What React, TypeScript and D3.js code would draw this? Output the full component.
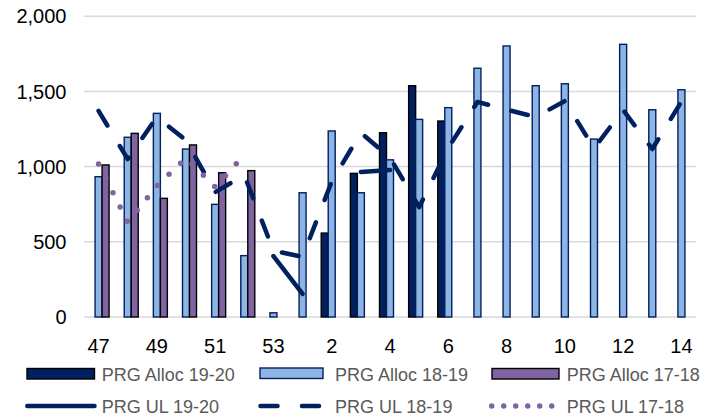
import React from 'react';
import * as d3 from 'd3';

const weeks = ['47','48','49','50','51','52','53','1','2','3','4','5','6','7','8','9','10','11','12','13','14'];
const xTickLabels = ['47','49','51','53','2','4','6','8','10','12','14'];
const yTicks = [0, 500, 1000, 1500, 2000];

const alloc1920: (number | null)[] = [null,null,null,null,null,null,null,null,558,955,1225,1538,1303,null,null,null,null,null,null,null,null];
const alloc1819: (number | null)[] = [933,1195,1354,1117,749,408,28,826,1237,826,1045,1314,1392,1654,1802,1538,1551,1183,1813,1378,1511];
const alloc1718: (number | null)[] = [1011,1221,789,1144,959,973,null,null,null,null,null,null,null,null,null,null,null,null,null,null,null];

const ul1920: (number | null)[] = [null,null,null,null,null,null,405,153,null,964,977,null,null,null,null,null,null,null,null,null,null];
const ul1819: (number | null)[] = [1370,1050,1330,1175,830,944,440,400,900,1225,1060,730,1124,1430,1379,1330,1436,1122,1376,1117,1432];
const ul1718: (number | null)[] = [1017,632,871,1057,864,1077,null,null,null,null,null,null,null,null,null,null,null,null,null,null,null];

const legendLabels = ['PRG Alloc 19-20','PRG Alloc 18-19','PRG Alloc 17-18','PRG UL 19-20','PRG UL 18-19','PRG UL 17-18'];

const NAVY = '#002060';
const LIGHT = '#8db4e2';
const PURPLE = '#8064a2';
const GRID = '#d9d9d9';
const FONT = '"Liberation Sans", Arial, sans-serif';

export default function App() {
  const W = 719, H = 419;
  const x = d3.scaleBand<string>().domain(weeks).range([84, 696]).paddingInner(0).paddingOuter(0);
  const y = d3.scaleLinear().domain([0, 2000]).range([317, 16.2]);
  const cx = (w: string) => (x(w) as number) + x.bandwidth() / 2;
  const bw = 7;
  const fmt = d3.format(',');

  const barSeries = [
    { data: alloc1920, fill: NAVY, stroke: '#000000', off: -bw },
    { data: alloc1819, fill: LIGHT, stroke: NAVY, off: 0 },
    { data: alloc1718, fill: PURPLE, stroke: '#000000', off: bw },
  ];

  const mkLine = (data: (number | null)[]) =>
    d3.line<number | null>()
      .defined((d) => d != null)
      .x((_, i) => cx(weeks[i]))
      .y((d) => y(d as number))(data) || '';

  const legendTextStyle = { fontFamily: FONT, fontSize: 18, fill: '#595959' } as const;

  return (
    <svg width={W} height={H} style={{ position: 'absolute', left: 0, top: 0, background: '#fff' }}>
      <rect x={0} y={0} width={W} height={H} fill="#fff" />
      {yTicks.map((t) => (
        <g key={t}>
          <line x1={84} x2={696} y1={y(t)} y2={y(t)} stroke={GRID} strokeWidth={1.5} />
          <text x={66.5} y={y(t) + 7.2} textAnchor="end" fontFamily={FONT} fontSize={20} fill="#000">{fmt(t)}</text>
        </g>
      ))}
      {barSeries.map((s, si) => (
        <g key={si}>
          {s.data.map((v, i) =>
            v == null ? null : (
              <rect
                key={i}
                x={cx(weeks[i]) + s.off - bw / 2}
                y={y(v)}
                width={bw}
                height={y(0) - y(v)}
                fill={s.fill}
                stroke={s.stroke}
                strokeWidth={1.4}
              />
            )
          )}
        </g>
      ))}
      <path d={mkLine(ul1920)} fill="none" stroke={NAVY} strokeWidth={4.5} strokeLinecap="round" strokeLinejoin="round" />
      <path d={mkLine(ul1819)} fill="none" stroke={NAVY} strokeWidth={4.5} strokeLinecap="round" strokeLinejoin="round" strokeDasharray="17 24" />
      <path d={mkLine(ul1718)} fill="none" stroke={PURPLE} strokeWidth={5.5} strokeLinecap="round" strokeLinejoin="round" strokeDasharray="0 16" />
      {xTickLabels.map((l) => (
        <text key={l} x={cx(l)} y={353} textAnchor="middle" fontFamily={FONT} fontSize={20} fill="#000">{l}</text>
      ))}
      {/* legend row 1 */}
      <rect x={27} y={368.5} width={67.5} height={10.5} fill={NAVY} stroke="#000" strokeWidth={1.4} />
      <text x={101.7} y={381} {...legendTextStyle}>{legendLabels[0]}</text>
      <rect x={260} y={368} width={63} height={10.5} fill={LIGHT} stroke={NAVY} strokeWidth={1.4} />
      <text x={335} y={381} {...legendTextStyle}>{legendLabels[1]}</text>
      <rect x={492} y={368.5} width={67} height={10.5} fill={PURPLE} stroke="#000" strokeWidth={1.4} />
      <text x={566.7} y={381} {...legendTextStyle}>{legendLabels[2]}</text>
      {/* legend row 2 */}
      <line x1={27.3} x2={94.5} y1={406} y2={406} stroke={NAVY} strokeWidth={4.5} strokeLinecap="round" />
      <text x={101.7} y={413} {...legendTextStyle}>{legendLabels[3]}</text>
      <line x1={260.5} x2={319.5} y1={406} y2={406} stroke={NAVY} strokeWidth={4.5} strokeLinecap="round" strokeDasharray="17 24.5" />
      <text x={335} y={413} {...legendTextStyle}>{legendLabels[4]}</text>
      <line x1={491.7} x2={552} y1={406} y2={406} stroke={PURPLE} strokeWidth={5.5} strokeLinecap="round" strokeDasharray="0 12" />
      <text x={566.7} y={413} {...legendTextStyle}>{legendLabels[5]}</text>
    </svg>
  );
}
